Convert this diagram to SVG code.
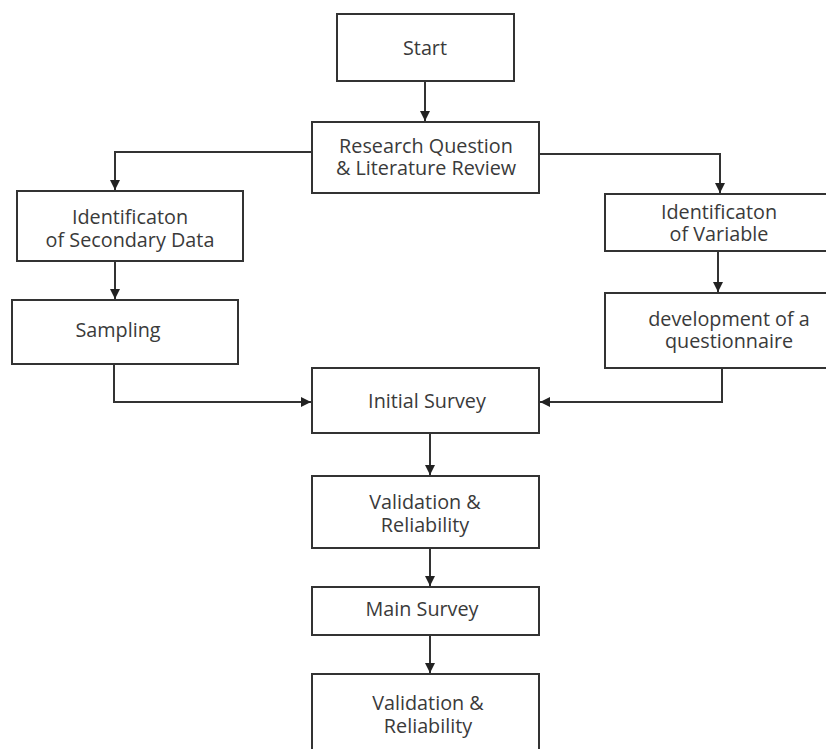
<svg xmlns="http://www.w3.org/2000/svg" width="826" height="749" viewBox="0 0 826 749">
<defs>
<style>
.box{fill:#ffffff;stroke:#333333;stroke-width:2}
.t{font-family:"Open Sans","Noto Sans","Liberation Sans",sans-serif;font-size:19.8px;fill:#3a3a3a;text-anchor:middle}
.c{fill:none;stroke:#333333;stroke-width:2}
</style>
<marker id="ah" markerWidth="11" markerHeight="11" refX="10" refY="5" orient="auto" markerUnits="userSpaceOnUse">
<path d="M0,0 L10,5 L0,10 Z" fill="#222222"/>
</marker>
</defs>
<rect width="826" height="749" fill="#ffffff"/>
<g id="connectors">
<path class="c" d="M425,81 V121" marker-end="url(#ah)"/>
<path class="c" d="M312,152 H115 V190" marker-end="url(#ah)"/>
<path class="c" d="M539,154 H720 V193" marker-end="url(#ah)"/>
<path class="c" d="M115,261 V299" marker-end="url(#ah)"/>
<path class="c" d="M718,251 V292" marker-end="url(#ah)"/>
<path class="c" d="M114,364 V402 H311" marker-end="url(#ah)"/>
<path class="c" d="M722,368 V402 H540" marker-end="url(#ah)"/>
<path class="c" d="M430,433 V475" marker-end="url(#ah)"/>
<path class="c" d="M430,548 V586" marker-end="url(#ah)"/>
<path class="c" d="M430,635 V673" marker-end="url(#ah)"/>
</g>
<g id="start">
<rect class="box" x="337" y="14" width="177" height="67"/>
<text class="t" x="425" y="55">Start</text>
</g>
<g id="research">
<rect class="box" x="312" y="122" width="227" height="71"/>
<text class="t" x="426" y="153">Research Question</text>
<text class="t" x="426" y="175">&amp; Literature Review</text>
</g>
<g id="secondary">
<rect class="box" x="17" y="191" width="226" height="70"/>
<text class="t" x="130" y="224">Identificaton</text>
<text class="t" x="130" y="247">of Secondary Data</text>
</g>
<g id="sampling">
<rect class="box" x="12" y="300" width="226" height="64"/>
<text class="t" x="118" y="337">Sampling</text>
</g>
<g id="variable">
<rect class="box" x="605" y="194" width="226" height="57"/>
<text class="t" x="719" y="219">Identificaton</text>
<text class="t" x="719" y="241">of Variable</text>
</g>
<g id="questionnaire">
<rect class="box" x="605" y="293" width="226" height="75"/>
<text class="t" x="729" y="326">development of a</text>
<text class="t" x="729" y="348">questionnaire</text>
</g>
<g id="initial">
<rect class="box" x="312" y="368" width="227" height="65"/>
<text class="t" x="427" y="408">Initial Survey</text>
</g>
<g id="validation1">
<rect class="box" x="312" y="476" width="227" height="72"/>
<text class="t" x="425" y="509">Validation &amp;</text>
<text class="t" x="425" y="532">Reliability</text>
</g>
<g id="main">
<rect class="box" x="312" y="587" width="227" height="48"/>
<text class="t" x="422" y="616">Main Survey</text>
</g>
<g id="validation2">
<rect class="box" x="312" y="674" width="227" height="80"/>
<text class="t" x="428" y="710">Validation &amp;</text>
<text class="t" x="428" y="733">Reliability</text>
</g>
</svg>
